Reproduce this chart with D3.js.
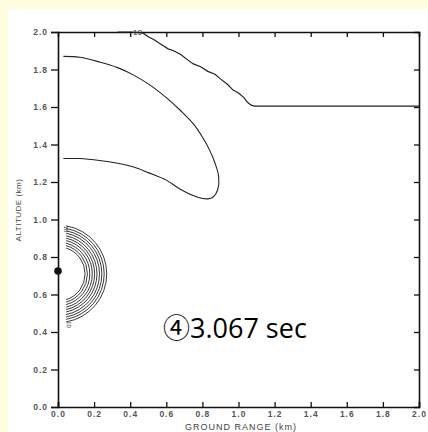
<!DOCTYPE html>
<html>
<head>
<meta charset="utf-8">
<script src="https://d3js.org/d3.v7.min.js"></script>
<style>
  html, body { margin: 0; padding: 0; background: #ffffe0; }
  svg { display: block; }
</style>
</head>
<body>
<div id="chart"></div>
<script>
// ground range / altitude in km
var boundaryX = [0.33, 0.40, 0.47, 0.50, 0.53, 0.57, 0.61, 0.64, 0.68, 0.72, 0.75, 0.79, 0.83, 0.87, 0.90, 0.94, 0.97, 1.00, 1.03, 1.05, 1.07, 1.09, 2.0];
var boundaryY = [2.0, 2.0, 1.995, 1.975, 1.96, 1.935, 1.91, 1.90, 1.88, 1.85, 1.83, 1.815, 1.79, 1.775, 1.75, 1.72, 1.69, 1.675, 1.65, 1.625, 1.61, 1.605, 1.605];

var loopX = [0.03, 0.12, 0.23, 0.33, 0.42, 0.52, 0.60, 0.68, 0.75, 0.80, 0.84, 0.87, 0.89, 0.885, 0.86, 0.83, 0.77, 0.68, 0.60, 0.50, 0.42, 0.33, 0.23, 0.12, 0.03];
var loopY = [1.87, 1.865, 1.84, 1.81, 1.77, 1.71, 1.65, 1.58, 1.51, 1.44, 1.37, 1.30, 1.23, 1.16, 1.12, 1.11, 1.12, 1.16, 1.21, 1.25, 1.28, 1.30, 1.315, 1.325, 1.325];

// small concentric contours around the burst point
var ringCenter = [0.0, 0.71];
var ringRadii = [0.15, 0.163, 0.176, 0.19, 0.203, 0.216, 0.23, 0.243, 0.256, 0.27];
var ringEndX = 0.045;

var burstPoint = [0.0, 0.725];

var xTicks = [0.0, 0.2, 0.4, 0.6, 0.8, 1.0, 1.2, 1.4, 1.6, 1.8, 2.0];
var yTicks = [0.0, 0.2, 0.4, 0.6, 0.8, 1.0, 1.2, 1.4, 1.6, 1.8, 2.0];
var innerTicks = [0.2, 0.4, 0.6, 0.8, 1.0, 1.2, 1.4, 1.6, 1.8];

var W = 428, H = 432;

var svg = d3.select("#chart").append("svg")
    .attr("width", W)
    .attr("height", H);

// white page area
svg.append("rect")
    .attr("x", 8).attr("y", 9)
    .attr("width", W - 8).attr("height", H - 9)
    .style("fill", "#fff");

var x = d3.scaleLinear().domain([0, 2]).range([58, 419]);
var y = d3.scaleLinear().domain([0, 2]).range([407, 32]);

var tickFont = "'Liberation Sans', Arial, sans-serif";

// left axis, ticks outside
var gL = svg.append("g")
    .attr("transform", "translate(" + x(0) + ",0)")
    .call(d3.axisLeft(y).tickValues(yTicks).tickFormat(d3.format(".1f")).tickSize(7).tickPadding(3));

// bottom axis, ticks inside
var gB = svg.append("g")
    .attr("transform", "translate(0," + y(0) + ")")
    .call(d3.axisBottom(x).tickValues(xTicks).tickFormat(d3.format(".1f")).tickSize(-5).tickPadding(4));

// top and right frame with inward ticks
var gT = svg.append("g")
    .attr("transform", "translate(0," + y(2) + ")")
    .call(d3.axisTop(x).tickValues(innerTicks).tickFormat("").tickSize(-5));
var gR = svg.append("g")
    .attr("transform", "translate(" + x(2) + ",0)")
    .call(d3.axisRight(y).tickValues(innerTicks).tickFormat("").tickSize(-5));

[gL, gB, gT, gR].forEach(function(g) {
    g.select(".domain").attr("stroke", "#111").attr("stroke-width", 1.6);
    g.selectAll(".tick line").attr("stroke", "#111").attr("stroke-width", 1.3);
    g.selectAll(".tick text")
        .style("font-family", tickFont)
        .style("font-size", "8.5px")
        .style("font-weight", "bold")
        .style("letter-spacing", "1px")
        .style("fill", "#555");
});
gL.selectAll(".tick text").attr("dy", "0.35em");

svg.append("text")
    .attr("x", 241)
    .attr("y", 430)
    .attr("text-anchor", "middle")
    .style("font-family", tickFont)
    .style("font-size", "9px")
    .style("letter-spacing", "1px")
    .style("fill", "#444")
    .text("GROUND RANGE (km)");

svg.append("text")
    .attr("transform", "translate(21,210) rotate(-90)")
    .attr("text-anchor", "middle")
    .style("font-family", tickFont)
    .style("font-size", "8px")
    .style("letter-spacing", "0.5px")
    .style("fill", "#444")
    .text("ALTITUDE (km)");

var line = d3.line()
    .x(function(d) { return x(d[0]); })
    .y(function(d) { return y(d[1]); });

svg.append("path")
    .datum(d3.zip(boundaryX, boundaryY))
    .attr("d", line.curve(d3.curveLinear))
    .style("fill", "none")
    .style("stroke", "#222")
    .style("stroke-width", 1.2);

svg.append("text")
    .attr("x", x(0.44)).attr("y", y(2.0) + 3)
    .attr("text-anchor", "middle")
    .style("font-family", tickFont)
    .style("font-size", "8px")
    .style("fill", "#333")
    .text("10");

svg.append("path")
    .datum(d3.zip(loopX, loopY))
    .attr("d", line.curve(d3.curveCatmullRom))
    .style("fill", "none")
    .style("stroke", "#222")
    .style("stroke-width", 1.1);

// concentric contour arcs
var cx = x(ringCenter[0]), cy = y(ringCenter[1]);
svg.selectAll(".ring")
    .data(ringRadii)
    .enter().append("path")
    .attr("class", "ring")
    .attr("d", function(r) {
        var rp = x(r) - x(0);
        var a = Math.acos(ringEndX / r);
        var p = d3.path();
        p.arc(cx, cy, rp, -a, a, false);
        return p.toString();
    })
    .style("fill", "none")
    .style("stroke", "#222")
    .style("stroke-width", 0.9);

svg.selectAll(".ringlbl")
    .data([[0.035, 0.95], [0.05, 0.44]])
    .enter().append("text")
    .attr("class", "ringlbl")
    .attr("transform", function(d) { return "translate(" + x(d[0]) + "," + y(d[1]) + ") rotate(90)"; })
    .attr("text-anchor", "middle")
    .style("font-family", tickFont)
    .style("font-size", "6px")
    .style("fill", "#333")
    .text("10");

svg.append("circle")
    .attr("cx", x(burstPoint[0]))
    .attr("cy", y(burstPoint[1]))
    .attr("r", 3.8)
    .style("fill", "#111");

var note = svg.append("text")
    .attr("x", 163)
    .attr("y", 338)
    .style("font-size", "27px")
    .style("fill", "#000");
note.append("tspan").style("font-family", "'Noto Sans CJK JP', 'DejaVu Sans', sans-serif").text("④");
note.append("tspan").style("font-family", "'Open Sans', sans-serif").text("3.067 sec");
</script>
</body>
</html>
